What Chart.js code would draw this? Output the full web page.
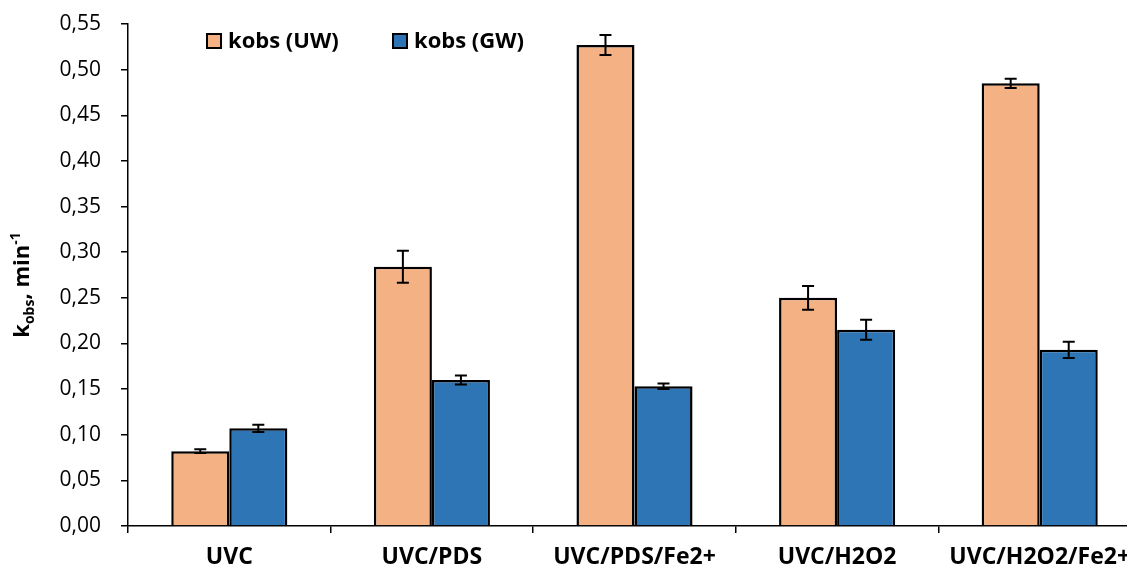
<!DOCTYPE html>
<html>
<head>
<meta charset="utf-8">
<script src="https://cdn.jsdelivr.net/npm/chart.js@4.4.1/dist/chart.umd.min.js"></script>
<style>
  html, body { margin:0; padding:0; background:#fff; overflow:hidden; }
  #wrap { width:1145px; height:572px; position:relative; }
</style>
</head>
<body>
<div id="wrap"><canvas id="chart" width="1145" height="572"></canvas></div>
<script>
// data
const categories = ['UVC', 'UVC/PDS', 'UVC/PDS/Fe2+', 'UVC/H2O2', 'UVC/H2O2/Fe2+'];
const uwValues = [0.082, 0.284, 0.527, 0.250, 0.485];
const uwErrors = [0.002, 0.0175, 0.011, 0.013, 0.005];
const gwValues = [0.107, 0.160, 0.153, 0.215, 0.193];
const gwErrors = [0.004, 0.005, 0.003, 0.011, 0.009];
const yTicks = [0, 0.05, 0.10, 0.15, 0.20, 0.25, 0.30, 0.35, 0.40, 0.45, 0.50, 0.55];
const seriesNames = ['kobs (UW)', 'kobs (GW)'];

const ORANGE = '#F4B183';
const BLUE = '#2E75B6';
const FONT = '"Open Sans", "Liberation Sans", sans-serif';

// error bars drawn through the y scale
const errorBars = {
  id: 'errorBars',
  afterDatasetsDraw(chart) {
    const ctx = chart.ctx;
    const y = chart.scales.y;
    const errs = [uwErrors, gwErrors];
    ctx.save();
    ctx.strokeStyle = '#000';
    ctx.lineWidth = 2;
    chart.data.datasets.forEach((ds, di) => {
      const meta = chart.getDatasetMeta(di);
      meta.data.forEach((bar, i) => {
        const v = ds.data[i], e = errs[di][i];
        const top = y.getPixelForValue(v + e), bot = y.getPixelForValue(v - e);
        ctx.beginPath();
        ctx.moveTo(bar.x, top); ctx.lineTo(bar.x, bot);
        ctx.moveTo(bar.x - 6, top); ctx.lineTo(bar.x + 6, top);
        ctx.moveTo(bar.x - 6, bot); ctx.lineTo(bar.x + 6, bot);
        ctx.stroke();
      });
    });
    ctx.restore();
  }
};

// legend inside the plot + y title with sub/superscript
const extras = {
  id: 'extras',
  afterDraw(chart) {
    const ctx = chart.ctx;
    ctx.save();
    // legend
    const items = [[207, ORANGE], [393, BLUE]];
    ctx.font = 'bold 22px ' + FONT;
    ctx.textBaseline = 'middle';
    items.forEach(([x, c], i) => {
      ctx.fillStyle = c;
      ctx.fillRect(x, 34, 14, 14);
      ctx.strokeStyle = '#000'; ctx.lineWidth = 2;
      ctx.strokeRect(x, 34, 14, 14);
      ctx.fillStyle = '#000';
      ctx.fillText(seriesNames[i], x + 21, 42);
    });
    // y axis title
    ctx.translate(29, 285);
    ctx.rotate(-Math.PI / 2);
    const big = 'bold 22px ' + FONT, small = 'bold 14px ' + FONT;
    const parts = [['k', big, 0], ['obs', small, 5], [', min', big, 0], ['-1', small, -9]];
    let total = 0;
    parts.forEach(p => { ctx.font = p[1]; total += ctx.measureText(p[0]).width; });
    let x = -total / 2;
    ctx.textBaseline = 'alphabetic';
    ctx.textAlign = 'left';
    parts.forEach(p => {
      ctx.font = p[1];
      ctx.fillText(p[0], x, p[2]);
      x += ctx.measureText(p[0]).width;
    });
    ctx.restore();
  }
};

new Chart(document.getElementById('chart'), {
  type: 'bar',
  data: {
    labels: categories,
    datasets: [
      { label: seriesNames[0], data: uwValues, backgroundColor: ORANGE, borderColor: '#000', borderWidth: 2.5 },
      { label: seriesNames[1], data: gwValues, backgroundColor: BLUE, borderColor: '#000', borderWidth: 2.5 }
    ]
  },
  options: {
    responsive: false,
    animation: false,
    events: [],
    layout: { padding: { top: 24, right: 4, left: 0, bottom: 0 } },
    datasets: { bar: { categoryPercentage: 0.573, barPercentage: 1 } },
    plugins: { legend: { display: false }, tooltip: { enabled: false } },
    scales: {
      x: {
        offset: true,
        grid: { offset: true, drawOnChartArea: false, tickLength: 7, color: '#000', lineWidth: 1.5 },
        border: { color: '#000', width: 1.5 },
        ticks: { color: '#000', font: { family: FONT, size: 23, weight: 'bold' }, padding: 11, maxRotation: 0, autoSkip: false },
        afterFit(s) { s.height = 572 - 526; s.paddingLeft = 0; s.paddingRight = 0; s.paddingTop = 0; s.paddingBottom = 0; }
      },
      y: {
        min: 0, max: 0.55,
        afterBuildTicks(s) { s.ticks = yTicks.map(v => ({ value: v })); },
        grid: { drawOnChartArea: false, tickLength: 7, color: '#000', lineWidth: 1.5 },
        border: { color: '#000', width: 1.5 },
        ticks: { color: '#000', font: { family: FONT, size: 21 }, padding: 20,
          callback: v => Number(v).toFixed(2).replace('.', ',') },
        afterFit(s) { s.width = 128; s.paddingTop = 0; s.paddingBottom = 0; }
      }
    }
  },
  plugins: [errorBars, extras]
});
</script>
</body>
</html>
